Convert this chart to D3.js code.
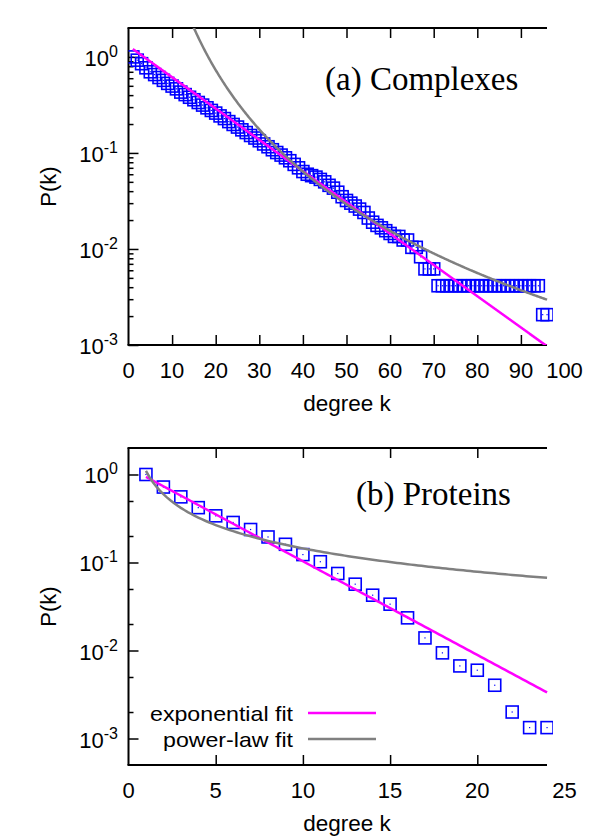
<!DOCTYPE html>
<html><head><meta charset="utf-8">
<script src="https://cdn.jsdelivr.net/npm/d3@7"></script>
<style>body{margin:0;background:#fff} svg{display:block}</style>
</head><body>
<script>
// ---------- data ----------
const complexDegree = [1,2,3,4,5,6,7,8,9,10,11,12,13,14,15,16,17,18,19,20,21,22,23,24,25,26,27,28,29,30,
  31,32,33,34,35,36,37,38,39,40,41,42,43,44,45,46,47,48,49,50,51,52,53,54,55,56,57,58,59,60,
  61,62,63,64,65,66,67,68,69,70,71,72,73,74,75,76,77,78,79,80,81,82,83,84,85,86,87,88,89,90,
  91,92,93,94,95,96];
const complexP = [1.000,0.925,0.850,0.770,0.700,0.655,0.610,0.570,0.530,0.497,
  0.465,0.430,0.405,0.380,0.358,0.335,0.315,0.295,0.277,0.260,
  0.243,0.228,0.212,0.198,0.186,0.174,0.163,0.152,0.143,0.134,
  0.124,0.116,0.108,0.101,0.095,0.089,0.083,0.076,0.070,0.064,
  0.060,0.058,0.056,0.053,0.050,0.046,0.043,0.039,0.035,0.032,
  0.030,0.028,0.026,0.024,0.021,0.019,0.0176,0.0166,0.0155,0.0145,
  0.0135,0.0135,0.0124,0.0124,0.0104,0.0104,0.0083,0.0062,0.0062,0.0062,
  0.00414,0.00414,0.00414,0.00414,0.00414,0.00414,0.00414,0.00414,0.00414,0.00414,
  0.00414,0.00414,0.00414,0.00414,0.00414,0.00414,0.00414,0.00414,0.00414,0.00414,
  0.00414,0.00414,0.00414,0.00414,0.00207,0.00207];
const proteinDegree = [1,2,3,4,5,6,7,8,9,10,11,12,13,14,15,16,17,18,19,20,21,22,23,24];
const proteinP = [1.0,0.72,0.557,0.42,0.339,0.285,0.237,0.195,0.161,0.123,0.102,0.075,
  0.0567,0.0425,0.0336,0.0235,0.0139,0.0094,0.00668,0.00597,0.00403,0.00200,0.00133,0.00133];

const complexXTicks = [0,10,20,30,40,50,60,70,80,90,100];
const proteinXTicks = [0,5,10,15,20,25];
const complexYTicks = [1e-3,1e-2,1e-1,1];
const proteinYTicks = [1e-3,1e-2,1e-1,1];
const yTickExponents = ["-3","-2","-1","0"];

// fit parameters [amplitude, rate/exponent]
const expFitComplex = [1.30, 0.0750];
const powFitComplex = [26900, 3.51];
const expFitProtein = [1.20, 0.2452];
const powFitProtein = [1.10, 0.881];

const panelTitles = ["(a) Complexes", "(b) Proteins"];
const legendLabels = ["exponential fit", "power-law fit"];
const xAxisLabel = "degree k";
const yAxisLabel = "P(k)";

// ---------- drawing ----------
const W = 600, H = 840;
const svg = d3.select("body").append("svg").attr("width", W).attr("height", H);
const SANS = "'Liberation Sans', Arial, Helvetica, sans-serif";
const SERIF = "'Liberation Serif', 'Times New Roman', serif";
const MAG = "#ff00ff", GRAY = "#808080", BLUE = "#0000ff";

const X0 = 128.5, X1 = 564.5, XLINE = 547;

function panel(cfg, idx) {
  const g = svg.append("g");
  const x = d3.scaleLinear().domain(cfg.xDomain).range([X0, X1]);
  const y = d3.scaleLog().domain(cfg.yDomain).range([cfg.bottom, cfg.top]);

  const clipId = "clip" + idx;
  g.append("clipPath").attr("id", clipId).append("rect")
    .attr("x", X0).attr("y", cfg.top).attr("width", XLINE - X0 + 6).attr("height", cfg.bottom - cfg.top);

  // minor y ticks
  const minor = [];
  for (let d = -4; d <= 0; d++) for (const m of cfg.minorMult) {
    const v = m * Math.pow(10, d);
    if (v > cfg.yDomain[0] * 1.01 && v < cfg.yDomain[1] * 0.99) minor.push(v);
  }
  const tickStyle = sel => { sel.select(".domain").remove(); sel.selectAll("line").attr("stroke", "#000").attr("stroke-width", 1.5); };
  g.append("g").attr("transform", `translate(${X0},0)`)
    .call(d3.axisLeft(y).tickValues(minor).tickSize(-5).tickFormat(""))
    .call(tickStyle);
  g.append("g").attr("transform", `translate(${X0},0)`)
    .call(d3.axisLeft(y).tickValues(cfg.yTicks).tickSize(-10).tickFormat(""))
    .call(tickStyle);

  const xt = cfg.xTicks.filter(v => x(v) > X0 + 2 && x(v) < XLINE);
  g.append("g").attr("transform", `translate(0,${cfg.bottom})`)
    .call(d3.axisBottom(x).tickValues(xt).tickSize(-10).tickFormat(""))
    .call(tickStyle);
  g.append("g").attr("transform", `translate(0,${cfg.top})`)
    .call(d3.axisTop(x).tickValues(xt).tickSize(-10).tickFormat(""))
    .call(tickStyle);

  // border lines
  const ln = (x1, y1, x2, y2) => g.append("line").attr("x1", x1).attr("y1", y1).attr("x2", x2).attr("y2", y2)
    .attr("stroke", "#000").attr("stroke-width", 2);
  ln(X0, cfg.top, X0, cfg.bottom);
  ln(X0 - 1, cfg.bottom, XLINE, cfg.bottom);
  ln(X0 - 1, cfg.top, XLINE, cfg.top);

  // x tick labels
  g.selectAll(".xl").data(cfg.xTicks).enter().append("text")
    .attr("x", d => x(d)).attr("y", cfg.bottom + 33)
    .attr("text-anchor", "middle").attr("font-family", SANS).attr("font-size", 22)
    .text(d => d);
  // y tick labels with superscript
  cfg.yTicks.forEach((v, i) => {
    const t = g.append("text").attr("x", 118).attr("y", y(v) + 9)
      .attr("text-anchor", "end").attr("font-family", SANS).attr("font-size", 22);
    t.append("tspan").text("10");
    t.append("tspan").attr("dy", -9).attr("font-size", 16).text(yTickExponents[i]);
  });

  // axis labels
  g.append("text").attr("transform", `translate(56,${(cfg.top + cfg.bottom) / 2}) rotate(-90)`)
    .attr("text-anchor", "middle").attr("font-family", SANS).attr("font-size", 22).text(yAxisLabel);
  g.append("text").attr("x", 347).attr("y", cfg.bottom + 66)
    .attr("text-anchor", "middle").attr("font-family", SANS).attr("font-size", 22.5).text(xAxisLabel);

  // title
  g.append("text").attr("x", cfg.titleX).attr("y", cfg.titleY)
    .attr("font-family", SERIF).attr("font-size", 33).text(panelTitles[idx]);

  // points
  const pts = g.append("g").attr("clip-path", `url(#${clipId})`);
  const data = cfg.k.map((k, i) => ({ k, p: cfg.p[i] }));
  pts.selectAll("rect.sq").data(data).enter().append("rect").attr("class", "sq")
    .attr("x", d => x(d.k) - 6).attr("y", d => y(d.p) - 6)
    .attr("width", 12).attr("height", 12)
    .attr("fill", "none").attr("stroke", BLUE).attr("stroke-width", 1.6);
  pts.selectAll("rect.dt").data(data).enter().append("rect").attr("class", "dt")
    .attr("x", d => x(d.k) - 0.6).attr("y", d => y(d.p) - 0.6)
    .attr("width", 1.2).attr("height", 1.2).attr("fill", BLUE);

  // fits
  const ks = [];
  for (let k = cfg.fitRange[0]; k <= cfg.fitRange[1] + 1e-9; k += 0.2) ks.push(k);
  const line = d3.line().x(d => x(d[0])).y(d => y(d[1]));
  const expF = k => cfg.expFit[0] * Math.exp(-cfg.expFit[1] * k);
  const powF = k => cfg.powFit[0] * Math.pow(k, -cfg.powFit[1]);
  const fits = g.append("g").attr("clip-path", `url(#${clipId})`);
  fits.append("path").attr("d", line(ks.map(k => [k, expF(k)])))
    .attr("fill", "none").attr("stroke", MAG).attr("stroke-width", 2.5);
  fits.append("path").attr("d", line(ks.map(k => [k, Math.min(powF(k), 100)])))
    .attr("fill", "none").attr("stroke", GRAY).attr("stroke-width", 2.5);

  if (cfg.legend) {
    const items = [[legendLabels[0], MAG, 713], [legendLabels[1], GRAY, 739]];
    items.forEach(([lab, col, yy]) => {
      g.append("text").attr("x", 293).attr("y", yy + 8).attr("text-anchor", "end")
        .attr("font-family", SANS).attr("font-size", 21).attr("textLength", lab.length > 13 ? 143 : 130)
        .attr("lengthAdjust", "spacingAndGlyphs").text(lab);
      g.append("line").attr("x1", 308).attr("x2", 376).attr("y1", yy).attr("y2", yy)
        .attr("stroke", col).attr("stroke-width", 2.5);
    });
  }
}

panel({
  top: 28, bottom: 345, xDomain: [0, 100], yDomain: [1e-3, 2],
  xTicks: complexXTicks, yTicks: complexYTicks, minorMult: [2,3,4,5,6,7,8,9],
  k: complexDegree, p: complexP, expFit: expFitComplex, powFit: powFitComplex,
  fitRange: [1, 96], titleX: 325, titleY: 90, legend: false
}, 0);

panel({
  top: 448, bottom: 765, xDomain: [0, 25], yDomain: [5e-4, 2],
  xTicks: proteinXTicks, yTicks: proteinYTicks, minorMult: [2,5],
  k: proteinDegree, p: proteinP, expFit: expFitProtein, powFit: powFitProtein,
  fitRange: [1, 24], titleX: 356, titleY: 505, legend: true
}, 1);
</script>
</body></html>
